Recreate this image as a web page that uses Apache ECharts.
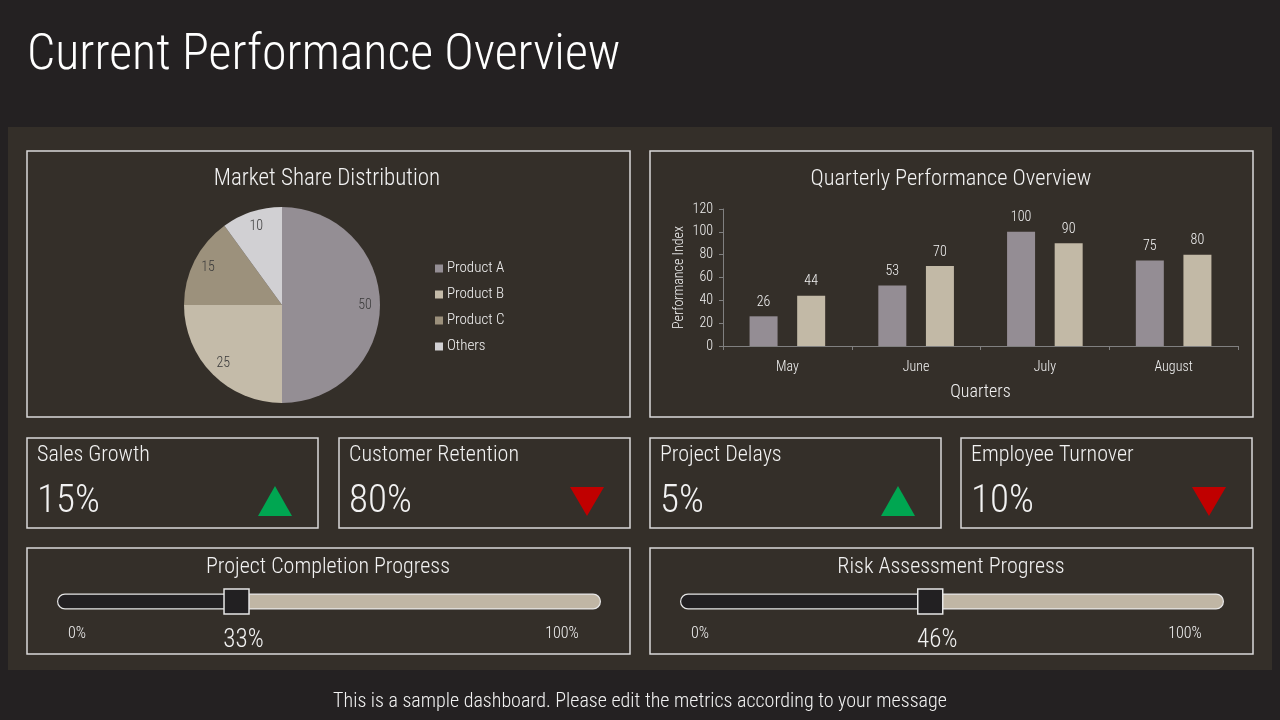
<!DOCTYPE html>
<html>
<head>
<meta charset="utf-8">
<script src="https://cdn.jsdelivr.net/npm/echarts@6/dist/echarts.min.js"></script>
<style>
html, body { margin: 0; padding: 0; background: #242122; }
#main { width: 1280px; height: 720px; }
</style>
</head>
<body>
<div id="main"></div>
<script>
const FONT = "'Roboto Condensed', 'Liberation Sans Narrow', Roboto, sans-serif"
const W = 300
const TXT = '#f2f2f2'
const LINE = '#d9d9d9'

// 饼图数据
const shareNames = ['Product A', 'Product B', 'Product C', 'Others']
const shareValues = [50, 25, 15, 10]
const shareColors = ['#948e94', '#c4bba9', '#9c917c', '#d1d0d3']

// 柱状图数据
const months = ['May', 'June', 'July', 'August']
const seriesA = [26, 53, 100, 75]
const seriesB = [44, 70, 90, 80]

// 指标卡
const kpiNames = ['Sales Growth', 'Customer Retention', 'Project Delays', 'Employee Turnover']
const kpiValues = ['15%', '80%', '5%', '10%']
const kpiTrend = ['up', 'down', 'up', 'down']

// 进度条
const progressNames = ['Project Completion Progress', 'Risk Assessment Progress']
const progressValues = [33, 46]
const progressEnds = ['0%', '100%']

const kpiX = [27, 339, 650, 961]
const progX = [27, 650]

const f = (size) => W + ' ' + size + 'px ' + FONT

const graphic = [
  { type: 'rect', shape: { x: 8, y: 127, width: 1264, height: 543 }, style: { fill: '#342f29' }, z: -10 },
  { type: 'text', x: 27, y: 56, style: { text: 'Current Performance Overview', fill: '#ffffff', font: f(50), textVerticalAlign: 'middle' } },
  { type: 'rect', shape: { x: 27, y: 151, width: 603, height: 266 }, style: { fill: 'none', stroke: LINE, lineWidth: 1.5 } },
  { type: 'rect', shape: { x: 650, y: 151, width: 603, height: 266 }, style: { fill: 'none', stroke: LINE, lineWidth: 1.5 } },
  { type: 'text', x: 640, y: 702, style: { text: 'This is a sample dashboard. Please edit the metrics according to your message', fill: TXT, font: f(20), textAlign: 'center', textVerticalAlign: 'middle' } }
]

kpiNames.forEach((name, i) => {
  const x = kpiX[i]
  const cx = x + 248
  graphic.push(
    { type: 'rect', shape: { x: x, y: 438, width: 291, height: 90 }, style: { fill: 'none', stroke: LINE, lineWidth: 1.5 } },
    { type: 'text', x: x + 10, y: 455, style: { text: name, fill: TXT, font: f(22), textVerticalAlign: 'middle' } },
    { type: 'text', x: x + 10, y: 502, style: { text: kpiValues[i], fill: TXT, font: f(39), textVerticalAlign: 'middle' } }
  )
  if (kpiTrend[i] === 'up') {
    graphic.push({ type: 'polygon', shape: { points: [[cx - 17, 516], [cx, 486], [cx + 17, 516]] }, style: { fill: '#00a651' } })
  } else {
    graphic.push({ type: 'polygon', shape: { points: [[cx - 17, 487], [cx + 17, 487], [cx, 516]] }, style: { fill: '#c00000' } })
  }
})

progressNames.forEach((name, i) => {
  const x = progX[i]
  graphic.push(
    { type: 'rect', shape: { x: x, y: 548, width: 603, height: 106 }, style: { fill: 'none', stroke: LINE, lineWidth: 1.5 } },
    { type: 'text', x: x + 301, y: 567, style: { text: name, fill: TXT, font: f(22), textAlign: 'center', textVerticalAlign: 'middle' } },
    { type: 'text', x: x + 50, y: 634, style: { text: progressEnds[0], fill: TXT, font: f(16), textAlign: 'center', textVerticalAlign: 'middle' } },
    { type: 'text', x: x + 535, y: 634, style: { text: progressEnds[1], fill: TXT, font: f(16), textAlign: 'center', textVerticalAlign: 'middle' } }
  )
})

const grids = [{ left: 723, top: 209, width: 515, height: 137 }]
const xAxes = [{
  type: 'category',
  data: months,
  gridIndex: 0,
  axisLine: { lineStyle: { color: '#808080' } },
  axisTick: { show: true, length: 4, lineStyle: { color: '#808080' } },
  axisLabel: { color: TXT, fontSize: 14, fontWeight: W, fontFamily: FONT, margin: 14 },
  name: 'Quarters',
  nameLocation: 'middle',
  nameGap: 37,
  nameTextStyle: { color: TXT, fontSize: 18, fontWeight: W, fontFamily: FONT }
}]
const yAxes = [{
  type: 'value',
  gridIndex: 0,
  min: 0,
  max: 120,
  interval: 20,
  axisLine: { show: true, lineStyle: { color: '#808080' } },
  axisTick: { show: true, length: 4, lineStyle: { color: '#808080' } },
  axisLabel: { color: TXT, fontSize: 14, fontWeight: W, fontFamily: FONT, margin: 10 },
  splitLine: { show: false },
  name: 'Performance Index',
  nameLocation: 'middle',
  nameGap: 37,
  nameTextStyle: { color: TXT, fontSize: 14, fontWeight: W, fontFamily: FONT }
}]

const series = [
  {
    type: 'pie',
    center: [282, 305],
    radius: [0, 98],
    startAngle: 90,
    label: { show: false },
    labelLine: { show: false },
    silent: true,
    data: shareNames.map((n, i) => ({ name: n, value: shareValues[i], itemStyle: { color: shareColors[i] } }))
  },
  {
    // 只用来放标签的外环
    type: 'pie',
    center: [282, 305],
    radius: [62, 98],
    startAngle: 90,
    silent: true,
    itemStyle: { color: 'rgba(0,0,0,0)' },
    label: { show: true, position: 'inside', color: '#3a3a3a', fontSize: 14, fontWeight: W, fontFamily: FONT, formatter: '{c}' },
    labelLine: { show: false },
    data: shareNames.map((n, i) => ({ name: n, value: shareValues[i] }))
  },
  {
    type: 'bar',
    xAxisIndex: 0,
    yAxisIndex: 0,
    data: seriesA,
    barWidth: 28,
    barGap: '70%',
    itemStyle: { color: '#948d94' },
    label: { show: true, position: 'top', distance: 7, color: TXT, fontSize: 14, fontWeight: W, fontFamily: FONT }
  },
  {
    type: 'bar',
    xAxisIndex: 0,
    yAxisIndex: 0,
    data: seriesB,
    barWidth: 28,
    barGap: '70%',
    itemStyle: { color: '#c2b9a6' },
    label: { show: true, position: 'top', distance: 7, color: TXT, fontSize: 14, fontWeight: W, fontFamily: FONT }
  }
]

progressValues.forEach((v, i) => {
  const gi = i + 1
  grids.push({ left: progX[i] + 30, top: 593, width: 544, height: 17 })
  xAxes.push({ type: 'value', gridIndex: gi, min: 0, max: 100, show: false })
  yAxes.push({ type: 'category', gridIndex: gi, data: ['p'], show: false })
  series.push(
    {
      type: 'bar',
      xAxisIndex: gi,
      yAxisIndex: gi,
      stack: 'p' + i,
      barWidth: 16,
      data: [v],
      silent: true,
      itemStyle: { color: '#222022', borderColor: '#e6e6e6', borderWidth: 1.2, borderRadius: [8, 0, 0, 8] }
    },
    {
      type: 'bar',
      xAxisIndex: gi,
      yAxisIndex: gi,
      stack: 'p' + i,
      barWidth: 16,
      data: [100 - v],
      silent: true,
      itemStyle: { color: '#c0b6a5', borderColor: '#e6e6e6', borderWidth: 1.2, borderRadius: [0, 8, 8, 0] }
    },
    {
      type: 'scatter',
      xAxisIndex: gi,
      yAxisIndex: gi,
      symbol: 'rect',
      symbolSize: 25,
      silent: true,
      data: [[v, 0]],
      itemStyle: { color: '#222022', borderColor: '#e6e6e6', borderWidth: 1.5, opacity: 1 },
      label: { show: true, position: 'bottom', distance: 11, offset: [7, 2], color: TXT, fontSize: 25, fontWeight: W, fontFamily: FONT, formatter: v + '%' },
      z: 5
    }
  )
})

const chart = echarts.init(document.getElementById('main'))
chart.setOption({
  backgroundColor: '#242122',
  animation: false,
  textStyle: { fontFamily: FONT, fontWeight: W },
  title: [
    { text: 'Market Share Distribution', left: 322, top: 163, textAlign: 'center', textStyle: { color: TXT, fontSize: 23, fontWeight: W, fontFamily: FONT } },
    { text: 'Quarterly Performance Overview', left: 946, top: 163, textAlign: 'center', textStyle: { color: TXT, fontSize: 22.4, fontWeight: W, fontFamily: FONT } }
  ],
  legend: {
    data: shareNames,
    orient: 'vertical',
    left: 430,
    top: 256,
    icon: 'rect',
    itemWidth: 8,
    itemHeight: 8,
    itemGap: 11,
    selectedMode: false,
    textStyle: { color: TXT, fontSize: 15, fontWeight: W, fontFamily: FONT, padding: [0, 0, 0, -1] }
  },
  grid: grids,
  xAxis: xAxes,
  yAxis: yAxes,
  series: series,
  graphic: graphic
})
</script>
</body>
</html>
